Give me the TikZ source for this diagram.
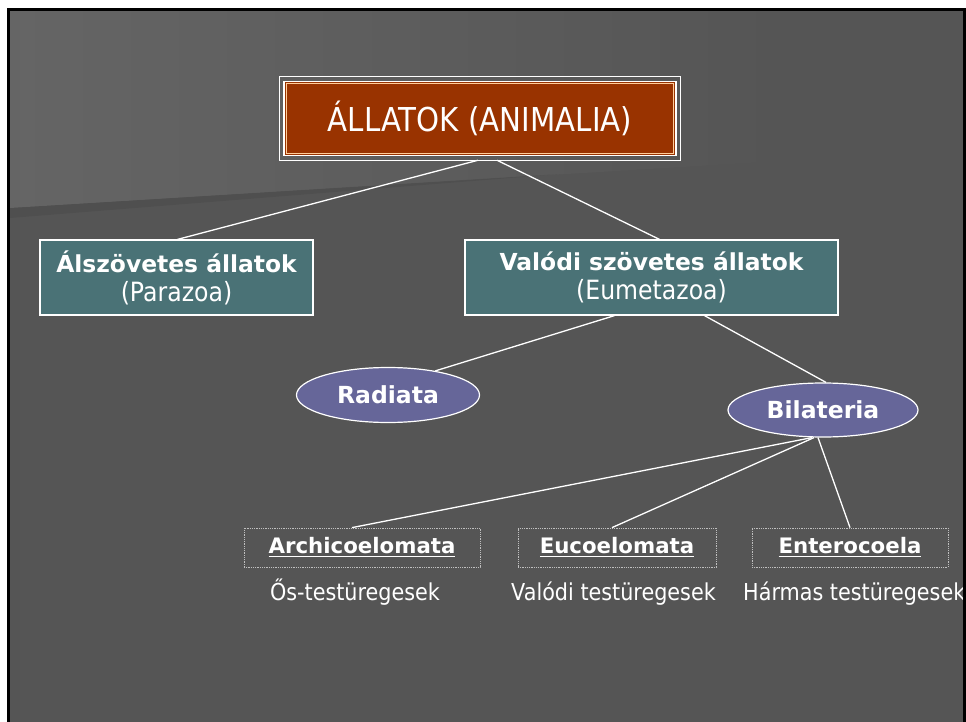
\documentclass[tikz,border=0pt]{standalone}
\usepackage{fontspec}
\setmainfont{DejaVu Sans}[FakeStretch=0.89]
\newfontfamily\tahbold{DejaVu Sans}
\usepackage{tikz}
\usetikzlibrary{shapes.geometric}
\definecolor{bgdark}{HTML}{555555}
\definecolor{bglight}{HTML}{656565}
\definecolor{rootbrown}{HTML}{993300}
\definecolor{boxteal}{HTML}{4A7276}
\definecolor{ellblue}{HTML}{666699}
\newcommand{\ulinetext}[1]{\setbox0\hbox{#1}\rlap{\rule[-3.5pt]{\wd0}{1.8pt}}\box0}
\tikzset{
    mytopbox/.style={rectangle, fill=rootbrown, draw=white, line width=1.5pt, minimum width=392, minimum height=74, inner sep=0pt, text=white, font=\fontsize{32.9}{36}\selectfont},
    mybox/.style={rectangle, fill=boxteal, draw=white, line width=1.2pt, minimum height=75, inner sep=0pt, text=white, align=center, font=\fontsize{23.4}{29}\selectfont},
    myellipse/.style={ellipse, fill=ellblue, draw=white, line width=1.2pt, inner sep=0pt, text=white, font=\tahbold\bfseries\fontsize{23.5}{28}\selectfont},
    mydotbox/.style={rectangle, draw=white!75!black, densely dotted, line width=0.8pt, minimum height=39, inner sep=0pt, text=white, font=\tahbold\bfseries\fontsize{21.3}{26}\selectfont},
    mylabel/.style={text=white, inner sep=0pt, font=\fontsize{23.3}{28}\selectfont},
    myline/.style={draw=white, line width=1.3pt}
}
\begin{document}
\begin{tikzpicture}[x=1pt, y=-1pt]
    \useasboundingbox (0,0) rectangle (966,722);
    \fill[white] (0,0) rectangle (966,722);
    \fill[bgdark] (7,8) rectangle (966,722);
    \shade[left color=bglight, right color=bgdark] (10,11) -- (780,11) -- (780,161) -- (10,208) -- cycle;
    \fill[black, opacity=0.07] (10,208) -- (560,174) -- (10,218) -- cycle;
    \draw (480,118.5) node[mytopbox] (animalia) {ÁLLATOK (ANIMALIA)};
    \draw[white, line width=1pt] ([xshift=-4pt,yshift=-4pt]animalia.south west) rectangle ([xshift=4pt,yshift=4pt]animalia.north east);
    \draw[orange!40!white, line width=0.6pt] ([xshift=3pt,yshift=3pt]animalia.south west) rectangle ([xshift=-3pt,yshift=-3pt]animalia.north east);
    \draw (176.5,277.5) node[mybox, minimum width=273] (parazoa) {{\tahbold\bfseries Álszövetes állatok}\\{\fontsize{26.5}{29}\selectfont (Parazoa)}};
    \draw (651.5,277.5) node[mybox, minimum width=373] (eumetazoa) {{\tahbold\bfseries Valódi szövetes állatok}\\{\fontsize{26.5}{29}\selectfont (Eumetazoa)}};
    \draw (388,395) node[myellipse, minimum width=183, minimum height=55] (radiata) {Radiata};
    \draw (823,410) node[myellipse, minimum width=190, minimum height=54] (bilateria) {Bilateria};
    \draw (362,547.5) node[mydotbox, minimum width=236] (archi) {\ulinetext{Archicoelomata}};
    \draw (617,547.5) node[mydotbox, minimum width=198] (euco) {\ulinetext{Eucoelomata}};
    \draw (850,547.5) node[mydotbox, minimum width=196] (entero) {\ulinetext{Enterocoela}};
    \draw (355,600) node[mylabel, anchor=base] (archisub) {Ős-testüregesek};
    \draw (613.5,600) node[mylabel, anchor=base] (eucosub) {Valódi testüregesek};
    \draw (743,600) node[mylabel, anchor=base west] (enterosub) {Hármas testüregesek};
    \draw[myline] ([xshift=-2pt,yshift=-4pt]animalia.south) -- ([xshift=1pt]parazoa.north);
    \draw[myline] ([xshift=17pt,yshift=-4pt]animalia.south) -- ([xshift=8pt]eumetazoa.north);
    \draw[myline] ([xshift=-37pt]eumetazoa.south) -- (radiata.27);
    \draw[myline] ([xshift=53pt]eumetazoa.south) -- ([xshift=3pt]bilateria.north);
    \draw[myline] ([xshift=-11pt]bilateria.south) -- ([xshift=-10pt]archi.north);
    \draw[myline] ([xshift=-9pt]bilateria.south) -- ([xshift=-5pt]euco.north);
    \draw[myline] ([xshift=-5pt]bilateria.south) -- (entero.north);
    \fill[black] (7,8) rectangle (10,722);
    \fill[black] (7,8) rectangle (966,11);
    \fill[black] (963,8) rectangle (966,722);
\end{tikzpicture}
\end{document}
